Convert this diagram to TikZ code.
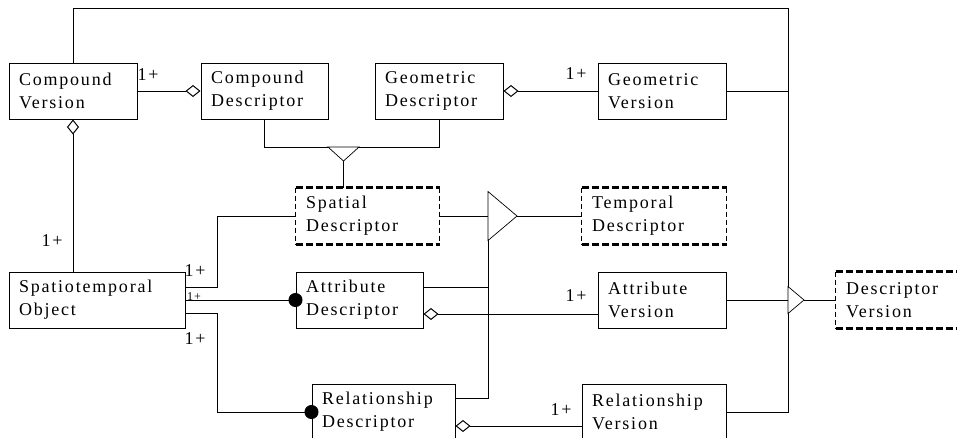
\documentclass[tikz,border=0pt]{standalone}
\usepackage{fontspec}
\setmainfont{Liberation Serif}[LetterSpace=10]
\usepackage{tikz}
\usetikzlibrary{arrows.meta}

\begin{document}
\begin{tikzpicture}[line width=1pt, font=\fontsize{18pt}{23pt}\selectfont,
  box/.style={draw, text width=#1, inner xsep=10pt, inner ysep=0pt, minimum height=56pt, align=left},
  dashbox/.style={box=#1, draw=none, append after command={
    (\tikzlastnode.north west) edge[line width=2.6pt, dash pattern=on 7pt off 3pt] (\tikzlastnode.north east)
    (\tikzlastnode.south west) edge[line width=2.6pt, dash pattern=on 7pt off 3pt] (\tikzlastnode.south east)
    (\tikzlastnode.north west) edge[line width=0.7pt, dash pattern=on 5pt off 3pt] (\tikzlastnode.south west)
    (\tikzlastnode.north east) edge[line width=0.7pt, dash pattern=on 5pt off 3pt] (\tikzlastnode.south east)}},
  agg/.style={-{Diamond[open, length=15pt, width=12pt]}},
  aggstart/.style={{Diamond[open, length=15pt, width=12pt]}-},
  dot/.style={-{Circle[length=14pt]}, shorten >=-7pt},
  gen/.style={draw, fill=white, line width=0.7pt}]
\useasboundingbox (0pt, 0pt) rectangle (957pt, -437pt);
\clip (0pt, 0pt) rectangle (957pt, -437pt);
% classes
\draw (73.0pt, -91.0pt)node[box=108pt](cver){Compound\\Version};
\draw (264.5pt, -91.0pt)node[box=107pt](cdesc){Compound\\Descriptor};
\draw (439.0pt, -91.0pt)node[box=108pt](gdesc){Geometric\\Descriptor};
\draw (662.0pt, -91.0pt)node[box=108pt](gver){Geometric\\Version};
\draw (367.5pt, -216.0pt)node[dashbox=123pt](spatial){Spatial\\Descriptor};
\draw (654.0pt, -216.0pt)node[dashbox=124pt](temporal){Temporal\\Descriptor};
\draw (97.0pt, -300.0pt)node[box=156pt](sto){Spatiotemporal\\Object};
\draw (359.5pt, -300.0pt)node[box=107pt](adesc){Attribute\\Descriptor};
\draw (662.0pt, -300.0pt)node[box=108pt](aver){Attribute\\Version};
\draw (908.0pt, -300.0pt)node[dashbox=124pt](dver){Descriptor\\Version};
\draw (383.5pt, -412.0pt)node[box=123pt](rdesc){Relationship\\Descriptor};
\draw (654.0pt, -412.0pt)node[box=124pt](rver){Relationship\\Version};
% junction points
\coordinate (trunk) at (788.0pt, -8.0pt);
\coordinate (gtip) at (343.5pt, -161.0pt);
\coordinate (tbase) at (488.0pt, -216.0pt);
\coordinate (ttip) at (517.0pt, -216.0pt);
\coordinate (dtip) at (804.0pt, -300.0pt);
% connectors
\draw (cver.north) |- (trunk) |- (rver.east);
\draw (gver) -- (gver -| trunk);
\draw (aver) -- (aver -| trunk);
\draw[agg] (cver) -- (cdesc);
\draw[aggstart] (gdesc) -- (gver);
\draw[aggstart] (cver.south) -- (cver.south |- sto.north);
\draw (cdesc.south) -- ++(0pt, -28pt) -| (gdesc.south);
\draw (gtip) -- (gtip |- spatial.north);
\draw (sto.east |- 0pt, -287pt) -- (217pt, -287pt) |- (spatial.west);
\draw[dot] (sto) -- (adesc);
\draw[dot] (sto.east |- 0pt, -313pt) -- (217pt, -313pt) |- (rdesc.west);
\draw (spatial.east) -- (tbase);
\draw (tbase) |- (rdesc.east |- 0pt, -398pt);
\draw (adesc.east |- 0pt, -287pt) -- (tbase |- 0pt, -287pt);
\draw[aggstart] (adesc.east |- 0pt, -314pt) -- (aver.west |- 0pt, -314pt);
\draw[aggstart] (rdesc.east |- 0pt, -426pt) -- (rver.west |- 0pt, -426pt);
\draw (ttip) -- (temporal);
\draw (dtip) -- (dver);
% generalisation triangles
\draw[gen] (328.0pt, -147.0pt) -- (359.0pt, -147.0pt) -- (gtip) -- cycle;
\draw[gen] (488.0pt, -191.5pt) -- (ttip) -- (488.0pt, -240.5pt) -- cycle;
\draw[gen] (788.0pt, -286.5pt) -- (dtip) -- (788.0pt, -313.5pt) -- cycle;
% multiplicities
\draw (148.0pt, -75.0pt)node(m1){1+};
\draw (576.0pt, -74.0pt)node(m2){1+};
\draw (52.0pt, -241.0pt)node(m3){1+};
\draw (195.0pt, -271.0pt)node(m4){1+};
\draw (194.0pt, -300.0pt)node[anchor=base, font=\fontsize{12pt}{14pt}\selectfont](m5){1+};
\draw (195.0pt, -339.0pt)node(m6){1+};
\draw (576.0pt, -296.0pt)node(m7){1+};
\draw (561.0pt, -410.0pt)node(m8){1+};
\end{tikzpicture}
\end{document}
